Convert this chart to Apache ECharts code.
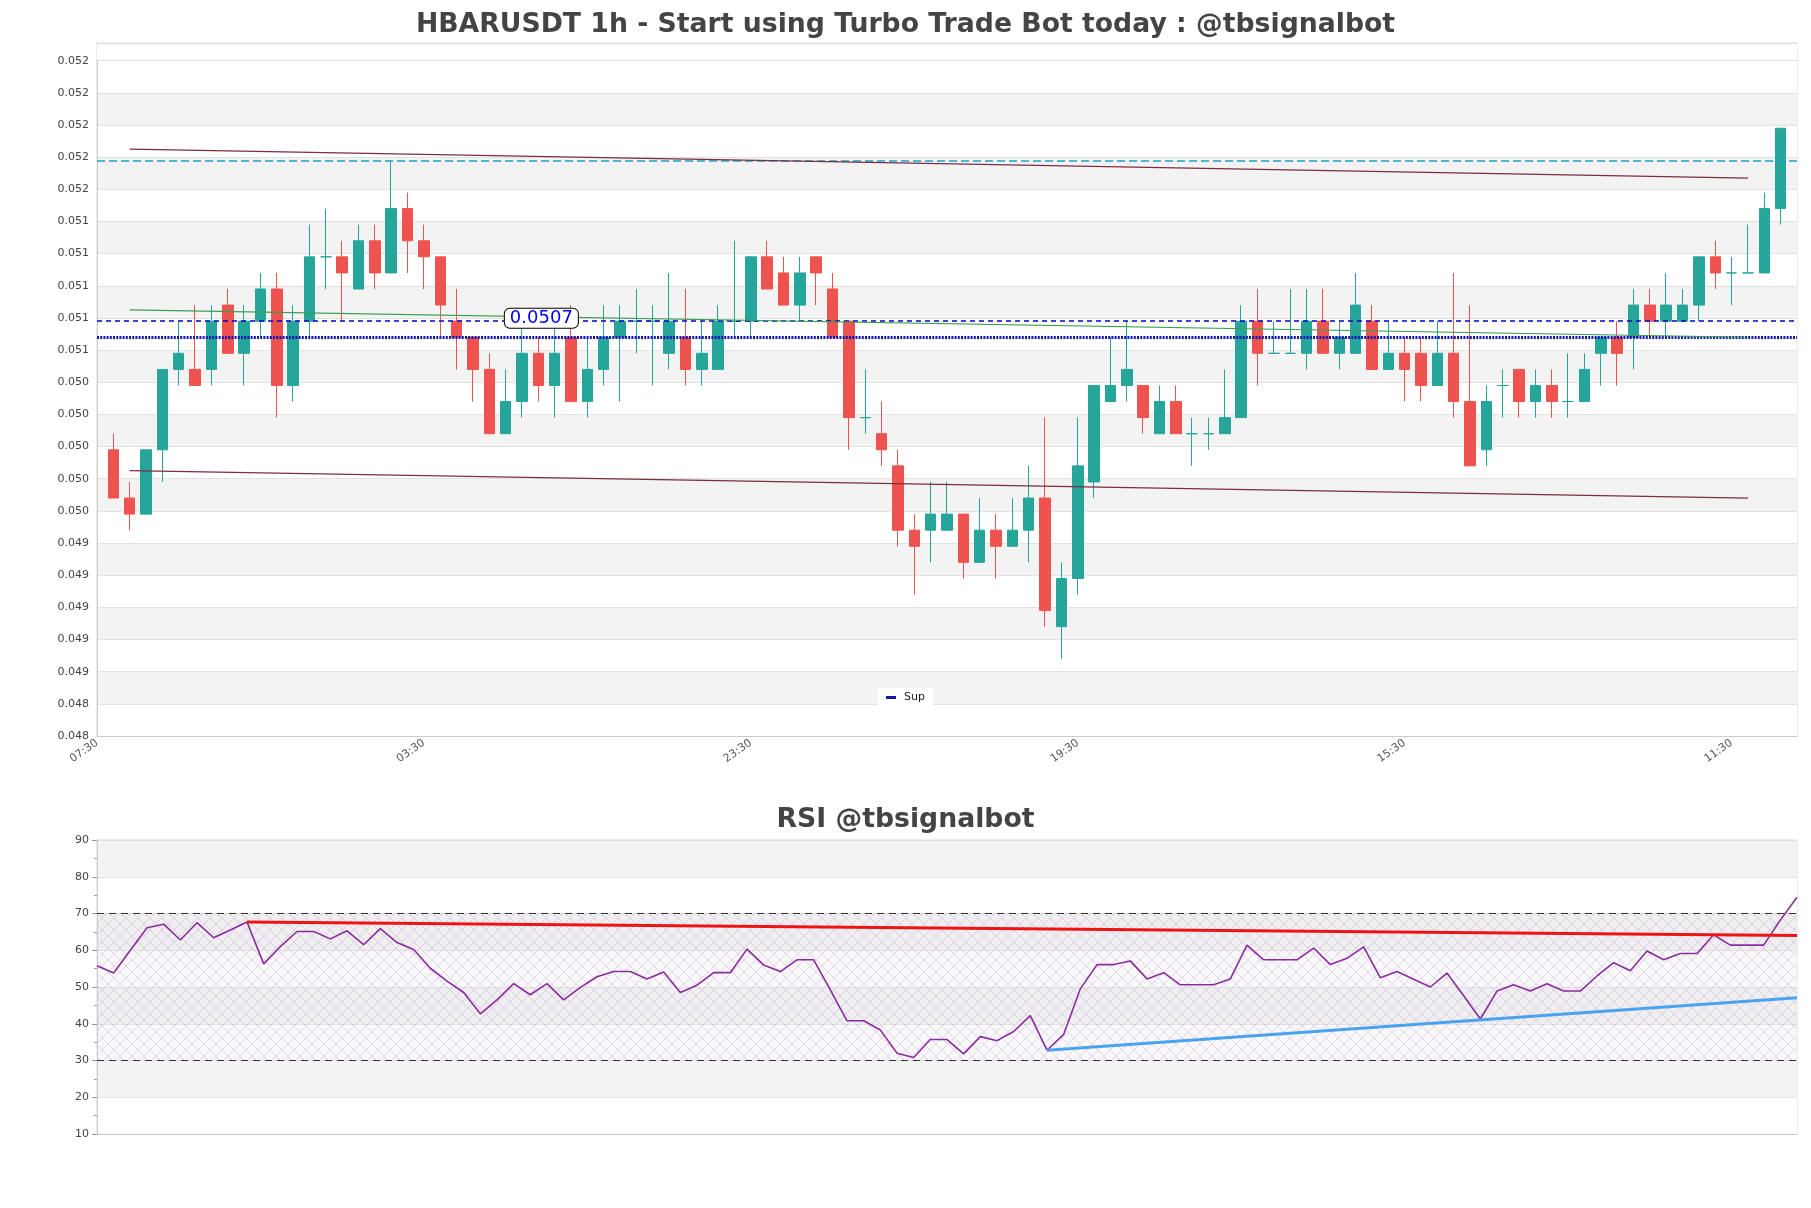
<!DOCTYPE html>
<html>
<head>
<meta charset="utf-8">
<script src="https://cdn.jsdelivr.net/npm/echarts/dist/echarts.min.js"></script>
<style>
html,body{margin:0;padding:0;background:#fff;}
#chart{width:1811px;height:1208px;}
</style>
</head>
<body>
<div id="chart"></div>
<script>
// ---------- DATA ----------
const mainTitle = 'HBARUSDT 1h - Start using Turbo Trade Bot today : @tbsignalbot';
const rsiTitle = 'RSI @tbsignalbot';

// hourly category labels (first slot 07:30, one per hour)
const startHour = 7;
const slotCount = 105;
const categories = [];
for (let i = 0; i < slotCount; i++) {
  const h = (startHour + i) % 24;
  categories.push((h < 10 ? '0' : '') + h + ':30');
}
const tickLabels = ['07:30', '03:30', '23:30', '19:30', '15:30', '11:30'];

// candles (slots 1..103)
const opens = [0.0499,0.0496,0.0495,0.0499,0.0504,0.0504,0.0504,0.0508,0.0505,0.0507,
0.0509,0.0503,0.0507,0.0511,0.0511,0.0509,0.0512,0.0510,0.0514,0.0512,
0.0511,0.0507,0.0506,0.0504,0.0500,0.0502,0.0505,0.0503,0.0506,0.0502,
0.0504,0.0506,0.0507,0.0507,0.0505,0.0506,0.0504,0.0504,0.0507,0.0507,
0.0511,0.0510,0.0508,0.0511,0.0509,0.0507,0.0501,0.0500,0.0498,0.0494,
0.0494,0.0494,0.0495,0.0492,0.0494,0.0493,0.0494,0.0496,0.0488,0.0491,
0.0497,0.0502,0.0503,0.0503,0.0500,0.0502,0.0500,0.0500,0.0500,0.0501,
0.0507,0.0505,0.0505,0.0505,0.0507,0.0505,0.0505,0.0507,0.0504,0.0505,
0.0505,0.0503,0.0505,0.0502,0.0499,0.0503,0.0504,0.0502,0.0503,0.0502,
0.0502,0.0505,0.0506,0.0506,0.0508,0.0507,0.0507,0.0508,0.0511,0.0510,
0.0510,0.0510,0.0514];
const highs = [0.0500,0.0497,0.0499,0.0504,0.0507,0.0508,0.0508,0.0509,0.0508,0.0510,
0.0510,0.0508,0.0513,0.0514,0.0512,0.0513,0.0513,0.0517,0.0515,0.0513,
0.0511,0.0509,0.0506,0.0505,0.0504,0.0507,0.0506,0.0507,0.0508,0.0506,
0.0508,0.0508,0.0509,0.0508,0.0510,0.0509,0.0507,0.0508,0.0512,0.0511,
0.0512,0.0511,0.0511,0.0511,0.0510,0.0507,0.0504,0.0502,0.0499,0.0495,
0.0497,0.0497,0.0495,0.0496,0.0495,0.0496,0.0498,0.0501,0.0492,0.0501,
0.0503,0.0506,0.0507,0.0503,0.0503,0.0503,0.0501,0.0501,0.0504,0.0508,
0.0509,0.0507,0.0509,0.0509,0.0509,0.0507,0.0510,0.0508,0.0507,0.0506,
0.0506,0.0507,0.0510,0.0508,0.0503,0.0504,0.0504,0.0504,0.0504,0.0505,
0.0505,0.0506,0.0507,0.0509,0.0509,0.0510,0.0509,0.0511,0.0512,0.0511,
0.0513,0.0515,0.0519];
const lows = [0.0496,0.0494,0.0495,0.0497,0.0503,0.0503,0.0503,0.0505,0.0503,0.0506,
0.0501,0.0502,0.0506,0.0509,0.0507,0.0509,0.0509,0.0510,0.0510,0.0509,
0.0506,0.0504,0.0502,0.0500,0.0500,0.0501,0.0502,0.0501,0.0502,0.0501,
0.0503,0.0502,0.0505,0.0503,0.0504,0.0503,0.0503,0.0504,0.0506,0.0506,
0.0509,0.0508,0.0507,0.0508,0.0506,0.0499,0.0500,0.0498,0.0493,0.0490,
0.0492,0.0494,0.0491,0.0492,0.0491,0.0493,0.0492,0.0488,0.0486,0.0490,
0.0496,0.0502,0.0502,0.0500,0.0500,0.0500,0.0498,0.0499,0.0500,0.0501,
0.0503,0.0505,0.0505,0.0504,0.0505,0.0504,0.0505,0.0504,0.0504,0.0502,
0.0502,0.0503,0.0501,0.0498,0.0498,0.0501,0.0501,0.0501,0.0501,0.0501,
0.0502,0.0503,0.0503,0.0504,0.0506,0.0506,0.0507,0.0507,0.0509,0.0508,
0.0510,0.0510,0.0513];
const closes = [0.0496,0.0495,0.0499,0.0504,0.0505,0.0503,0.0507,0.0505,0.0507,0.0509,
0.0503,0.0507,0.0511,0.0511,0.0510,0.0512,0.0510,0.0514,0.0512,0.0511,
0.0508,0.0506,0.0504,0.0500,0.0502,0.0505,0.0503,0.0505,0.0502,0.0504,
0.0506,0.0507,0.0507,0.0507,0.0507,0.0504,0.0505,0.0507,0.0507,0.0511,
0.0509,0.0508,0.0510,0.0510,0.0506,0.0501,0.0501,0.0499,0.0494,0.0493,
0.0495,0.0495,0.0492,0.0494,0.0493,0.0494,0.0496,0.0489,0.0491,0.0498,
0.0503,0.0503,0.0504,0.0501,0.0502,0.0500,0.0500,0.0500,0.0501,0.0507,
0.0505,0.0505,0.0505,0.0507,0.0505,0.0506,0.0508,0.0504,0.0505,0.0504,
0.0503,0.0505,0.0502,0.0498,0.0502,0.0503,0.0502,0.0503,0.0502,0.0502,
0.0504,0.0506,0.0505,0.0508,0.0507,0.0508,0.0508,0.0511,0.0510,0.0510,
0.0510,0.0514,0.0519];
const firstCandleSlot = 1;

// horizontal levels
const resistanceLevel = 0.0517;
const pivotLevel = 0.0507;
const pivotLabel = '0.0507';
const pivotLabelSlot = 27;
const supportLevel = 0.0506;

// channel trend lines [slot, value]
const channelStart = 2, channelEnd = 101;
const channelUpper = [0.05177, 0.05159];
const channelMid = [0.05077, 0.05060];
const channelLower = [0.04977, 0.04960];

// RSI (103 points)
const rsi = [55.8,53.8,60.0,66.1,67.1,62.8,67.5,63.4,65.5,67.7,
56.3,61.0,65.1,65.1,63.1,65.3,61.5,65.9,62.1,60.2,
55.1,51.6,48.5,42.7,46.5,50.9,47.9,50.9,46.5,49.9,
52.8,54.2,54.2,52.2,54.1,48.5,50.5,53.9,53.9,60.3,
56.0,54.2,57.4,57.4,49.2,40.8,40.8,38.3,32.0,30.8,
35.7,35.7,31.8,36.5,35.4,37.9,42.2,32.8,37.1,49.5,
56.1,56.1,57.1,52.2,53.9,50.6,50.6,50.6,52.2,61.4,
57.4,57.4,57.4,60.6,56.1,57.8,60.9,52.5,54.2,52.1,
50.0,53.8,47.6,41.3,48.9,50.6,48.9,50.9,48.9,48.9,
53.0,56.6,54.4,59.8,57.4,59.1,59.1,64.2,61.4,61.4,
61.4,68.2,74.4];
const rsiOverbought = 70, rsiOversold = 30;
const rsiResistLine = [[9, 67.7], [102, 64.0]];
const rsiSupportLine = [[57, 32.8], [102, 47.1]];

// y-axis settings
const priceMin = 0.04812, priceMax = 0.05243, priceStep = 0.0002;
const priceTopTick = 0.05232;

// ---------- BUILD ----------
const candleData = [['-', '-', '-', '-']];
for (let i = 0; i < opens.length; i++) {
  candleData.push([opens[i], closes[i], lows[i], highs[i]]);
}
const rsiCats = categories.slice(firstCandleSlot, firstCandleSlot + rsi.length);

function hatchPattern() {
  const c = document.createElement('canvas');
  c.width = 12; c.height = 12;
  const g = c.getContext('2d');
  g.fillStyle = 'rgba(235,215,240,0.18)';
  g.fillRect(0, 0, 12, 12);
  g.strokeStyle = 'rgba(170,150,190,0.42)';
  g.lineWidth = 0.8;
  g.beginPath();
  g.moveTo(0, 0); g.lineTo(12, 12);
  g.moveTo(12, 0); g.lineTo(0, 12);
  g.stroke();
  return c;
}

const titleStyle = {fontSize: 26.7, fontWeight: 'bold', color: '#444', fontFamily: 'DejaVu Sans'};
const axisFont = {color: '#444', fontSize: 11, fontFamily: 'DejaVu Sans'};

const chart = echarts.init(document.getElementById('chart'), null, {renderer: 'canvas'});
chart.setOption({
  animation: false,
  backgroundColor: '#ffffff',
  title: [
    {text: mainTitle, left: 'center', top: 7, textStyle: titleStyle},
    {text: rsiTitle, left: 'center', top: 802, textStyle: titleStyle}
  ],
  legend: {
    data: ['Sup'], left: 'center', top: 688, backgroundColor: '#ffffff',
    padding: [4, 8], icon: 'rect', itemWidth: 10, itemHeight: 3,
    textStyle: {fontSize: 11, color: '#222', fontFamily: 'DejaVu Sans', padding: [0, 0, 0, 3]}
  },
  grid: [
    {left: 97, right: 14, top: 43, height: 693, show: true, borderColor: '#dcdcdc', borderWidth: 1, backgroundColor: 'transparent'},
    {left: 97, right: 14, top: 840, height: 294, show: true, borderColor: '#dcdcdc', borderWidth: 1, backgroundColor: 'transparent'}
  ],
  xAxis: [
    {
      type: 'category', gridIndex: 0, data: categories, boundaryGap: false,
      axisLine: {lineStyle: {color: '#cccccc'}}, axisTick: {show: false},
      axisLabel: {
        interval: function (idx, val) { return tickLabels.indexOf(val) >= 0 && idx % 20 === 0; },
        rotate: 35, margin: 6, color: '#555', fontSize: 11, fontFamily: 'DejaVu Sans'
      },
      splitLine: {show: false}
    },
    {
      type: 'category', gridIndex: 1, data: rsiCats, boundaryGap: false,
      axisLine: {lineStyle: {color: '#cccccc'}}, axisTick: {show: false},
      axisLabel: {show: false}, splitLine: {show: false}
    }
  ],
  yAxis: [
    {
      type: 'value', gridIndex: 0, min: priceMin, max: priceMax, interval: priceStep, scale: true,
      axisLine: {show: true, lineStyle: {color: '#cccccc'}}, axisTick: {show: false},
      axisLabel: Object.assign({
        formatter: function (v) { return v > priceTopTick + priceStep / 4 ? '' : v.toFixed(3); }
      }, axisFont),
      splitLine: {show: true, lineStyle: {color: '#e2e2e2', width: 1}},
      splitArea: {show: true, areaStyle: {color: ['#ffffff', '#f3f3f3']}}
    },
    {
      type: 'value', gridIndex: 1, min: 10, max: 90, interval: 10,
      axisLine: {show: true, lineStyle: {color: '#cccccc'}},
      axisTick: {show: true, length: 5, lineStyle: {color: '#999'}},
      minorTick: {show: true, splitNumber: 2, length: 3, lineStyle: {color: '#999'}},
      axisLabel: axisFont,
      splitLine: {show: true, lineStyle: {color: '#e2e2e2', width: 1}},
      splitArea: {show: true, areaStyle: {color: ['#ffffff', '#f3f3f3']}}
    }
  ],
  series: [
    {
      type: 'candlestick', name: 'price', xAxisIndex: 0, yAxisIndex: 0,
      data: candleData, barWidth: 11,
      itemStyle: {color: '#26a69a', color0: '#ef5350', borderColor: '#26a69a', borderColor0: '#ef5350', borderWidth: 1},
      markArea: {
        silent: true,
        itemStyle: {color: '#ffffff'},
        data: [[{yAxis: priceTopTick + 0.000006}, {yAxis: priceMax - 0.00001}]]
      },
      markLine: {
        silent: true, symbol: ['none', 'none'], label: {show: false}, precision: 6,
        data: [
          {yAxis: resistanceLevel, lineStyle: {color: '#1ca3c6', type: [8, 4], width: 1.5}},
          {yAxis: pivotLevel, lineStyle: {color: '#0000c8', type: [5, 4], width: 1.5}},
          {yAxis: supportLevel, lineStyle: {color: '#1414b4', type: [2, 1.2], width: 3}},
          [{coord: [channelStart, channelUpper[0]]}, {coord: [channelEnd, channelUpper[1]], lineStyle: {color: '#7a2e40', width: 1.2, type: 'solid'}}],
          [{coord: [channelStart, channelMid[0]]}, {coord: [channelEnd, channelMid[1]], lineStyle: {color: '#3c9e52', width: 1.2, type: 'solid'}}],
          [{coord: [channelStart, channelLower[0]]}, {coord: [channelEnd, channelLower[1]], lineStyle: {color: '#7a2e40', width: 1.2, type: 'solid'}}]
        ]
      },
      markPoint: {
        silent: true, symbol: 'rect', symbolSize: 1, itemStyle: {color: 'rgba(0,0,0,0)'},
        label: {
          show: true, position: 'inside', formatter: pivotLabel, offset: [3, -3],
          color: '#0000ee', fontSize: 18, fontFamily: 'DejaVu Sans', lineHeight: 19,
          backgroundColor: '#ffffff', borderColor: '#000', borderWidth: 1, borderRadius: 5,
          padding: [0, 5, 0, 5]
        },
        data: [{coord: [pivotLabelSlot, pivotLevel]}]
      }
    },
    {
      type: 'line', name: 'Sup', xAxisIndex: 0, yAxisIndex: 0, data: [],
      color: '#1414a8', symbol: 'none'
    },
    {
      type: 'line', name: 'RSI', xAxisIndex: 1, yAxisIndex: 1, data: rsi,
      symbol: 'none', lineStyle: {color: '#8a2c9e', width: 1.6}, color: '#8a2c9e',
      markArea: {
        silent: true,
        itemStyle: {color: {image: hatchPattern(), repeat: 'repeat'}},
        data: [[{yAxis: rsiOversold}, {yAxis: rsiOverbought}]]
      },
      markLine: {
        silent: true, symbol: ['none', 'none'], label: {show: false}, precision: 4,
        data: [
          {yAxis: rsiOverbought, lineStyle: {color: '#333', type: [7, 5], width: 1}},
          {yAxis: rsiOversold, lineStyle: {color: '#333', type: [7, 5], width: 1}},
          [{coord: rsiResistLine[0]}, {coord: rsiResistLine[1], lineStyle: {color: '#ee1414', width: 3, type: 'solid'}}],
          [{coord: rsiSupportLine[0]}, {coord: rsiSupportLine[1], lineStyle: {color: '#4aa3ef', width: 3, type: 'solid'}}]
        ]
      }
    }
  ]
});
</script>
</body>
</html>
